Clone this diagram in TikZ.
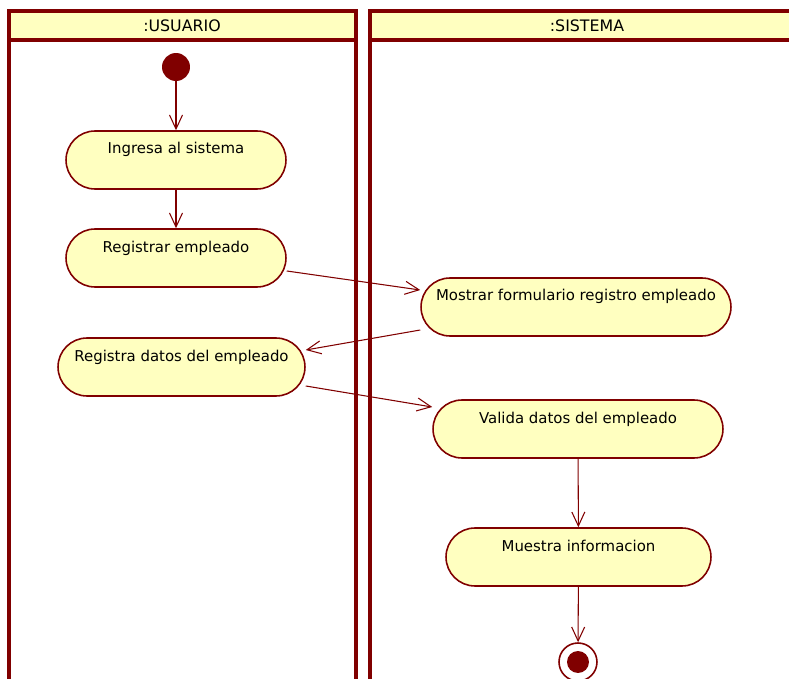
\documentclass[tikz,border=0pt]{standalone}
\usepackage{fontspec}
\setmainfont{DejaVu Sans}
\usepackage{xcolor}
\usetikzlibrary{arrows.meta,positioning}
\definecolor{umlred}{HTML}{800000}
\definecolor{umlfill}{HTML}{FFFFC0}

\begin{document}
\begin{tikzpicture}[x=0.02cm,y=-0.02cm,
          lane/.style={draw=umlred,line width=2pt},
          head/.style={draw=umlred,fill=umlfill,line width=2pt},
          htxt/.style={font=\fontsize{9}{11}\selectfont},
          act/.style={draw=umlred,fill=umlfill,line width=0.9pt,rounded corners=0.58cm,
                      minimum height=1.16cm,inner sep=0pt,text height=0.2cm,text depth=0.44cm,
                      font=\fontsize{8.5}{10}\selectfont},
          flow/.style={draw=umlred,line width=0.6pt,-{Straight Barb[length=0.28cm,width=0.26cm]}}]
        \useasboundingbox (0,0) rectangle (789,679);
        % swimlanes
        \draw[head] (9,11) rectangle (356,40);
        \draw[head] (370,11) rectangle (800,40);
        \draw[lane] (9,11) -- (9,700);
        \draw[lane] (356,11) -- (356,700);
        \draw[lane] (370,11) -- (370,700);
        \node[htxt] (husu) at (182,26) {:USUARIO};
        \node[htxt] (hsis) at (587,26) {:SISTEMA};
        % activities
        \node[circle,fill=umlred,minimum size=0.56cm,inner sep=0pt] (ini) at (176,67) {};
        \node[act,minimum width=4.4cm]  (ingresa)   at (176,160)   {Ingresa al sistema};
        \node[act,minimum width=4.4cm]  (registrar) at (176,258)   {Registrar empleado};
        \node[act,minimum width=6.2cm]  (mostrar)   at (576,307)   {Mostrar formulario registro empleado};
        \node[act,minimum width=4.94cm] (datos)     at (181.5,367) {Registra datos del empleado};
        \node[act,minimum width=5.8cm]  (valida)    at (578,429)   {Valida datos del empleado};
        \node[act,minimum width=5.3cm]  (muestra)   at (578.5,557) {Muestra informacion};
        \node[circle,draw=umlred,fill=white,line width=0.9pt,minimum size=0.76cm,inner sep=0pt] (fin) at (578,662) {};
        \node[circle,fill=umlred,minimum size=0.44cm,inner sep=0pt] (fin-in) at (fin) {};
        % flows
        \draw[flow] (ini) -- (ingresa);
        \draw[flow] (ingresa) -- (registrar);
        \draw[flow] ([yshift=-0.26cm]registrar.east) -- ([yshift=0.34cm]mostrar.west);
        \draw[flow] ([yshift=-0.46cm]mostrar.west) -- ([yshift=0.34cm]datos.east);
        \draw[flow] ([yshift=-0.38cm]datos.east) -- ([yshift=0.44cm]valida.west);
        \draw[flow] (valida) -- (muestra);
        \draw[flow] (muestra) -- (fin);
      \end{tikzpicture}
\end{document}
